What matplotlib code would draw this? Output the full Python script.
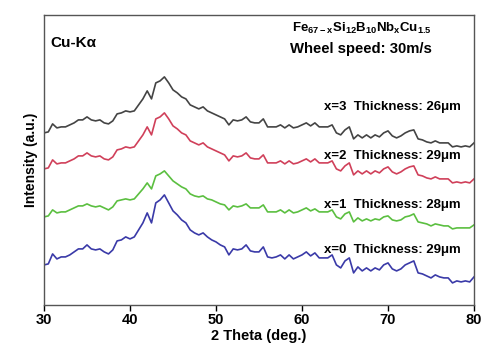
import numpy as np
import matplotlib
matplotlib.use("Agg")
import matplotlib.pyplot as plt

plt.rcParams['font.family'] = ['Liberation Sans', 'DejaVu Sans']
plt.rcParams['mathtext.fontset'] = 'custom'
plt.rcParams['mathtext.rm'] = 'Liberation Sans'
plt.rcParams['mathtext.bf'] = 'Liberation Sans:bold'

two_theta = [30 + 0.5 * i for i in range(101)]

x0_blue = [40, 41, 51, 46, 48, 48, 50, 53, 56, 56,
           60, 56, 55, 56, 53, 51, 55, 64, 65, 68,
           66, 68, 75, 82, 92, 82, 102, 105, 110, 102,
           94, 90, 85, 82, 75, 72, 70, 72, 68, 65,
           63, 60, 58, 50, 56, 55, 56, 60, 54, 53,
           53, 58, 48, 47, 48, 50, 46, 50, 46, 48,
           50, 53, 49, 52, 47, 47, 47, 50, 40, 37,
           44, 47, 32, 38, 34, 37, 34, 37, 35, 40,
           42, 36, 34, 36, 40, 42, 44, 32, 31, 29,
           27, 30, 28, 27, 27, 22, 24, 23, 24, 23, 28]

x1_green = [88, 89, 95, 92, 93, 93, 95, 97, 99, 99,
            101, 99, 98, 99, 97, 95, 98, 104, 105, 106,
            105, 106, 111, 116, 122, 116, 129, 131, 134, 129,
            124, 121, 118, 116, 111, 109, 108, 109, 106, 105,
            103, 101, 100, 95, 99, 98, 99, 101, 97, 97,
            97, 100, 93, 93, 93, 95, 92, 95, 92, 93,
            95, 97, 94, 96, 93, 93, 93, 95, 88, 86,
            91, 93, 83, 87, 84, 86, 84, 86, 85, 88,
            89, 85, 84, 85, 88, 89, 91, 83, 82, 81,
            79, 81, 80, 79, 79, 76, 77, 77, 77, 77, 80]

x2_red = [136, 137, 145, 141, 142, 142, 144, 146, 149, 149,
          152, 149, 148, 149, 146, 145, 148, 155, 156, 158,
          157, 158, 164, 170, 178, 170, 186, 188, 192, 186,
          179, 176, 172, 170, 164, 162, 160, 162, 158, 156,
          154, 152, 150, 144, 149, 148, 149, 152, 147, 146,
          146, 150, 142, 142, 142, 144, 141, 144, 141, 142,
          144, 146, 143, 146, 142, 142, 142, 144, 136, 134,
          139, 142, 130, 134, 131, 134, 131, 134, 132, 136,
          138, 133, 131, 133, 136, 138, 139, 130, 129, 127,
          126, 128, 126, 126, 126, 122, 123, 122, 123, 122, 126]

x3_black = [172, 173, 181, 177, 178, 178, 180, 182, 185, 185,
            188, 185, 184, 185, 182, 181, 184, 191, 192, 194,
            193, 194, 200, 206, 214, 206, 222, 224, 228, 222,
            215, 212, 208, 206, 200, 198, 196, 198, 194, 192,
            190, 188, 186, 180, 185, 184, 185, 188, 183, 182,
            182, 186, 178, 178, 178, 180, 177, 180, 177, 178,
            180, 182, 179, 182, 178, 178, 178, 180, 172, 170,
            175, 178, 166, 170, 167, 170, 167, 170, 168, 172,
            174, 169, 167, 169, 172, 174, 175, 166, 165, 163,
            162, 164, 162, 162, 162, 158, 159, 158, 159, 158, 162]

series = [x3_black, x2_red, x1_green, x0_blue]
colors = ['#444444', '#d0405a', '#5bbf40', '#3a3aa8']
labels = ['x=3  Thickness: 26\u03bcm', 'x=2  Thickness: 29\u03bcm',
          'x=1  Thickness: 28\u03bcm', 'x=0  Thickness: 29\u03bcm']
label_y = [198, 149, 100, 55]
xticks = [30, 40, 50, 60, 70, 80]

fig = plt.figure(figsize=(5.0, 3.63), dpi=100)
ax = fig.add_axes([0.088, 0.16, 0.86, 0.799])

for ys, c in zip(series, colors):
    ax.plot(two_theta, ys, color=c, lw=1.2, solid_joinstyle='round')

ax.set_xlim(30, 80)
ax.set_ylim(0, 290)
ax.set_xticks(xticks)
ax.set_xticklabels([str(t) for t in xticks], fontsize=10.5, fontweight='bold')
ax.set_yticks([])
ax.tick_params(axis='x', direction='out', length=4, width=1, pad=2)
for s in ax.spines.values():
    s.set_color('#555555')
    s.set_linewidth(1.0)

ax.set_xlabel('2 Theta (deg.)', fontsize=10.5, fontweight='bold', labelpad=1)
ax.set_ylabel('Intensity (a.u.)', fontsize=10, fontweight='bold', labelpad=4)

ax.text(30.7, 262, 'Cu-K\u03b1', fontsize=11, fontweight='bold', va='center', ha='left')
ax.text(75.1, 276, r'$\mathbf{Fe_{67-x}Si_{12}B_{10}Nb_{x}Cu_{1.5}}$',
        fontsize=9.5, va='center', ha='right')
ax.text(75.1, 256, 'Wheel speed: 30m/s', fontsize=10.7, fontweight='bold',
        va='center', ha='right')
for lab, ly in zip(labels, label_y):
    ax.text(78.5, ly, lab, fontsize=9.5, fontweight='bold', va='center', ha='right')

fig.savefig('out.png', dpi=100)
